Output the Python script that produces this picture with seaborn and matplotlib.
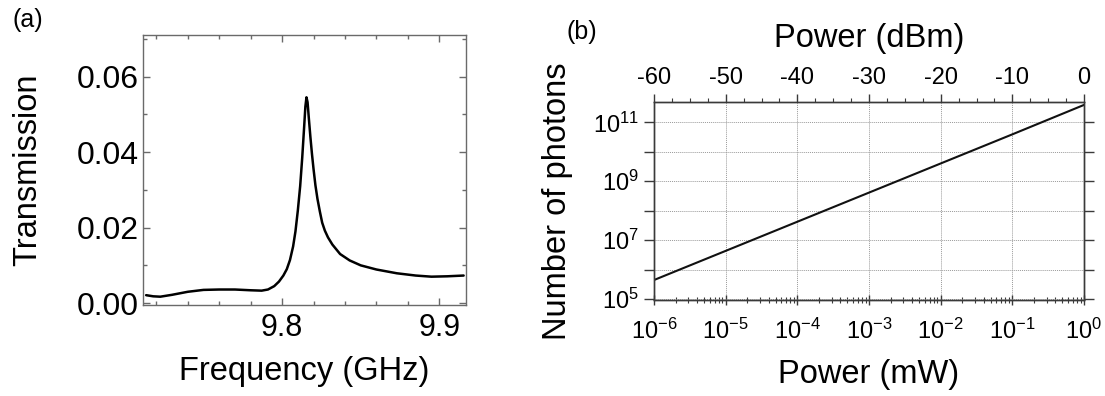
import numpy as np
import pandas as pd
import matplotlib
matplotlib.use("Agg")
import matplotlib.pyplot as plt
import matplotlib.ticker as mticker
import seaborn as sns

# ---- data: panel (a) ----
freq_ghz = [9.7135, 9.718, 9.7225, 9.73, 9.74, 9.75, 9.76, 9.77, 9.78, 9.787,
            9.791, 9.795, 9.798, 9.8008, 9.8030, 9.8050, 9.8070, 9.8085, 9.8100,
            9.8115, 9.8128, 9.8140, 9.8148, 9.8155, 9.8162, 9.8170, 9.8180, 9.8190,
            9.8200, 9.8212, 9.8225, 9.8240, 9.8255, 9.8272, 9.8292, 9.8320, 9.8369,
            9.8430, 9.850, 9.860, 9.873, 9.885, 9.895, 9.905, 9.9155]
transmission = [0.0021, 0.0018, 0.0017, 0.0022, 0.0030, 0.0035, 0.0036, 0.0036, 0.0034, 0.0033,
                0.0036, 0.0045, 0.0057, 0.0073, 0.0090, 0.0114, 0.0150, 0.0190, 0.0245,
                0.0310, 0.0385, 0.0465, 0.0520, 0.0545, 0.0532, 0.0490, 0.0440, 0.0395,
                0.0355, 0.0312, 0.0276, 0.0243, 0.0213, 0.0192, 0.0174, 0.0155, 0.0130,
                0.0113, 0.0100, 0.0089, 0.0079, 0.0073, 0.0070, 0.0071, 0.0073]

# ---- data: panel (b) ----
power_mw = [1e-6, 1e-5, 1e-4, 1e-3, 1e-2, 1e-1, 1e0]
photons = [4.4e5, 4.3e6, 4.2e7, 4.1e8, 4.0e9, 3.9e10, 3.9e11]
dbm_ticks = [-60, -50, -40, -30, -20, -10, 0]
mw_exponents = [-6, -5, -4, -3, -2, -1, 0]
photon_exponents = [5, 6, 7, 8, 9, 10, 11]

sns.set_theme(style="ticks")
plt.rcParams["font.family"] = ["Liberation Sans", "DejaVu Sans"]
plt.rcParams["mathtext.fontset"] = "custom"
plt.rcParams["mathtext.rm"] = "Liberation Sans"
plt.rcParams["mathtext.it"] = "Liberation Sans"
plt.rcParams["axes.unicode_minus"] = False
plt.rcParams["text.color"] = "black"
plt.rcParams["axes.labelcolor"] = "black"
plt.rcParams["xtick.labelcolor"] = "black"
plt.rcParams["ytick.labelcolor"] = "black"

W, H = 1105, 396
fig = plt.figure(figsize=(W / 100, H / 100), dpi=100)

def box(l, t, r, b):
    return [l / W, 1 - b / H, (r - l) / W, (b - t) / H]

# ================= panel (a) =================
ax1 = fig.add_axes(box(143, 35, 466, 305))
df_a = pd.DataFrame({"f": freq_ghz, "t": transmission})
sns.lineplot(data=df_a, x="f", y="t", ax=ax1, color="black", lw=1.8)
ax1.set_xlim(9.7115, 9.917)
ax1.set_ylim(-0.0005, 0.071)
ax1.xaxis.set_major_locator(mticker.FixedLocator([9.8, 9.9]))
ax1.xaxis.set_minor_locator(mticker.MultipleLocator(0.02))
ax1.yaxis.set_major_locator(mticker.FixedLocator([0.0, 0.02, 0.04, 0.06]))
ax1.yaxis.set_minor_locator(mticker.MultipleLocator(0.01))
ax1.xaxis.set_major_formatter(mticker.FormatStrFormatter("%.1f"))
ax1.yaxis.set_major_formatter(mticker.FormatStrFormatter("%.2f"))
frame_a = "#6a6a6a"
for s in ax1.spines.values():
    s.set_color(frame_a)
    s.set_linewidth(1.0)
ax1.tick_params(which="both", direction="in", top=True, right=True, color=frame_a, width=1.0)
ax1.tick_params(which="major", length=5)
ax1.tick_params(which="minor", length=3)
ax1.tick_params(axis="y", labelsize=23, pad=3)
ax1.tick_params(axis="x", labelsize=22, pad=6)
ax1.set_xlabel("Frequency (GHz)", fontsize=23.5, labelpad=9)
ax1.set_ylabel("Transmission", fontsize=23.5, labelpad=24)

# ================= panel (b) =================
ax2 = fig.add_axes(box(654, 102, 1084, 300))
df_b = pd.DataFrame({"p": power_mw, "n": photons})
sns.lineplot(data=df_b, x="p", y="n", ax=ax2, color="#111111", lw=1.5)
ax2.set_xscale("log")
ax2.set_yscale("log")
ax2.set_xlim(1e-6, 1e0)
ax2.set_ylim(10 ** 4.965, 10 ** 11.69)

ax2.set_xticks([10.0 ** e for e in mw_exponents])
ax2.set_xticklabels([r"$\mathregular{10^{%d}}$" % e for e in mw_exponents])
ax2.xaxis.set_minor_locator(mticker.LogLocator(base=10, subs=np.arange(2, 10), numticks=20))
ax2.xaxis.set_minor_formatter(mticker.NullFormatter())
ax2.set_yticks([10.0 ** e for e in photon_exponents])
ax2.set_yticklabels([r"$\mathregular{10^{%d}}$" % e if e % 2 == 1 else "" for e in photon_exponents])
ax2.yaxis.set_minor_locator(mticker.NullLocator())

frame_b = "#3a3a3a"
for s in ax2.spines.values():
    s.set_color(frame_b)
    s.set_linewidth(1.0)
ax2.grid(True, which="major", color="#9a9a9a", linestyle=(0, (1, 1)), linewidth=0.7)
ax2.tick_params(axis="y", which="major", direction="out", left=True, right=True,
                length=7, width=1.0, color=frame_b, labelsize=17, pad=4)
ax2.tick_params(axis="x", which="major", direction="inout", bottom=True, top=False,
                length=7, width=1.0, color=frame_b, labelsize=17, pad=10)
ax2.tick_params(axis="x", which="minor", direction="inout", bottom=True, top=False,
                length=4, width=0.8, color=frame_b)
ax2.set_xlabel("Power (mW)", fontsize=23.5, labelpad=11)
ax2.set_ylabel("Number of photons", fontsize=23.5, labelpad=14)

# top axis in dBm (linear, -60..0 maps onto 1e-6..1 mW)
top = ax2.twiny()
top.set_xlim(dbm_ticks[0], dbm_ticks[-1])
top.set_xticks(dbm_ticks)
top.set_xticklabels([str(d) for d in dbm_ticks])
top.xaxis.set_minor_locator(mticker.MultipleLocator(2.5))
top.grid(False)
top.tick_params(axis="x", which="major", direction="out", length=6, width=1.0, color=frame_b,
                labelsize=17, pad=3)
top.tick_params(axis="x", which="minor", direction="out", length=3, width=0.8, color=frame_b)
for s in top.spines.values():
    s.set_color(frame_b)
    s.set_linewidth(1.0)
top.set_xlabel("Power (dBm)", fontsize=23.5, labelpad=15)

fig.text(13 / W, 1 - 8 / H, "(a)", fontsize=18, ha="left", va="top")
fig.text(567 / W, 1 - 20 / H, "(b)", fontsize=18, ha="left", va="top")

fig.savefig("out.png", dpi=100, facecolor="white")
